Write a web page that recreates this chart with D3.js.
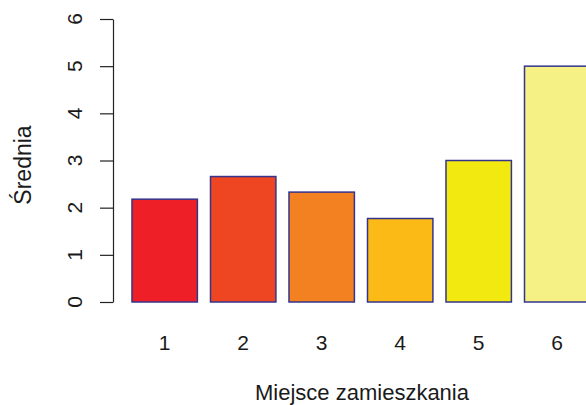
<!DOCTYPE html>
<html>
<head>
<meta charset="utf-8">
<script src="https://cdn.jsdelivr.net/npm/d3@7"></script>
<style>
  html, body { margin: 0; padding: 0; background: #fff; }
  svg { display: block; }
  text { font-family: "Liberation Sans", Arial, Helvetica, sans-serif; fill: #1a1a1a; }
</style>
</head>
<body>
<svg id="chart" width="586" height="405"></svg>
<script>
const categories = ["1", "2", "3", "4", "5", "6"];
const values = [2.18, 2.66, 2.33, 1.77, 3.0, 5.0];
const colors = ["#EE1F26", "#EE4523", "#F38021", "#FBBA16", "#F2E910", "#F5F185"];
const yTicks = [0, 1, 2, 3, 4, 5, 6];
const xTitle = "Miejsce zamieszkania";
const yTitle = "Średnia";

const svg = d3.select("#chart");

const x = d3.scaleBand()
  .domain(categories)
  .range([118.9, 603])
  .paddingInner(1 / 6)
  .paddingOuter(1 / 6);

const y = d3.scaleLinear().domain([0, 6]).range([302, 19]);

// bars
svg.append("g")
  .selectAll("rect")
  .data(values)
  .join("rect")
  .attr("x", (d, i) => x(categories[i]))
  .attr("y", d => y(d))
  .attr("width", x.bandwidth())
  .attr("height", d => y(0) - y(d))
  .attr("fill", (d, i) => colors[i])
  .attr("stroke", "#34348c")
  .attr("stroke-width", 1.5);

// y axis
const yAxis = svg.append("g")
  .attr("transform", "translate(113,0)")
  .call(d3.axisLeft(y).tickValues(yTicks).tickSize(13).tickSizeOuter(0).tickFormat(""));
yAxis.selectAll("path, line").attr("stroke", "#222").attr("stroke-width", 1.2);

svg.append("g")
  .selectAll("text")
  .data(yTicks)
  .join("text")
  .attr("transform", d => `translate(82,${y(d)}) rotate(-90)`)
  .attr("text-anchor", "middle")
  .attr("font-size", 21)
  .text(d => d);

// x labels
svg.append("g")
  .selectAll("text")
  .data(categories)
  .join("text")
  .attr("x", d => x(d) + x.bandwidth() / 2)
  .attr("y", 350)
  .attr("text-anchor", "middle")
  .attr("font-size", 21)
  .text(d => d);

// titles
svg.append("text")
  .attr("x", 362)
  .attr("y", 400)
  .attr("text-anchor", "middle")
  .attr("font-size", 22)
  .text(xTitle);

svg.append("text")
  .attr("transform", "translate(30.5,165) rotate(-90)")
  .attr("text-anchor", "middle")
  .attr("font-size", 23)
  .text(yTitle);
</script>
</body>
</html>
